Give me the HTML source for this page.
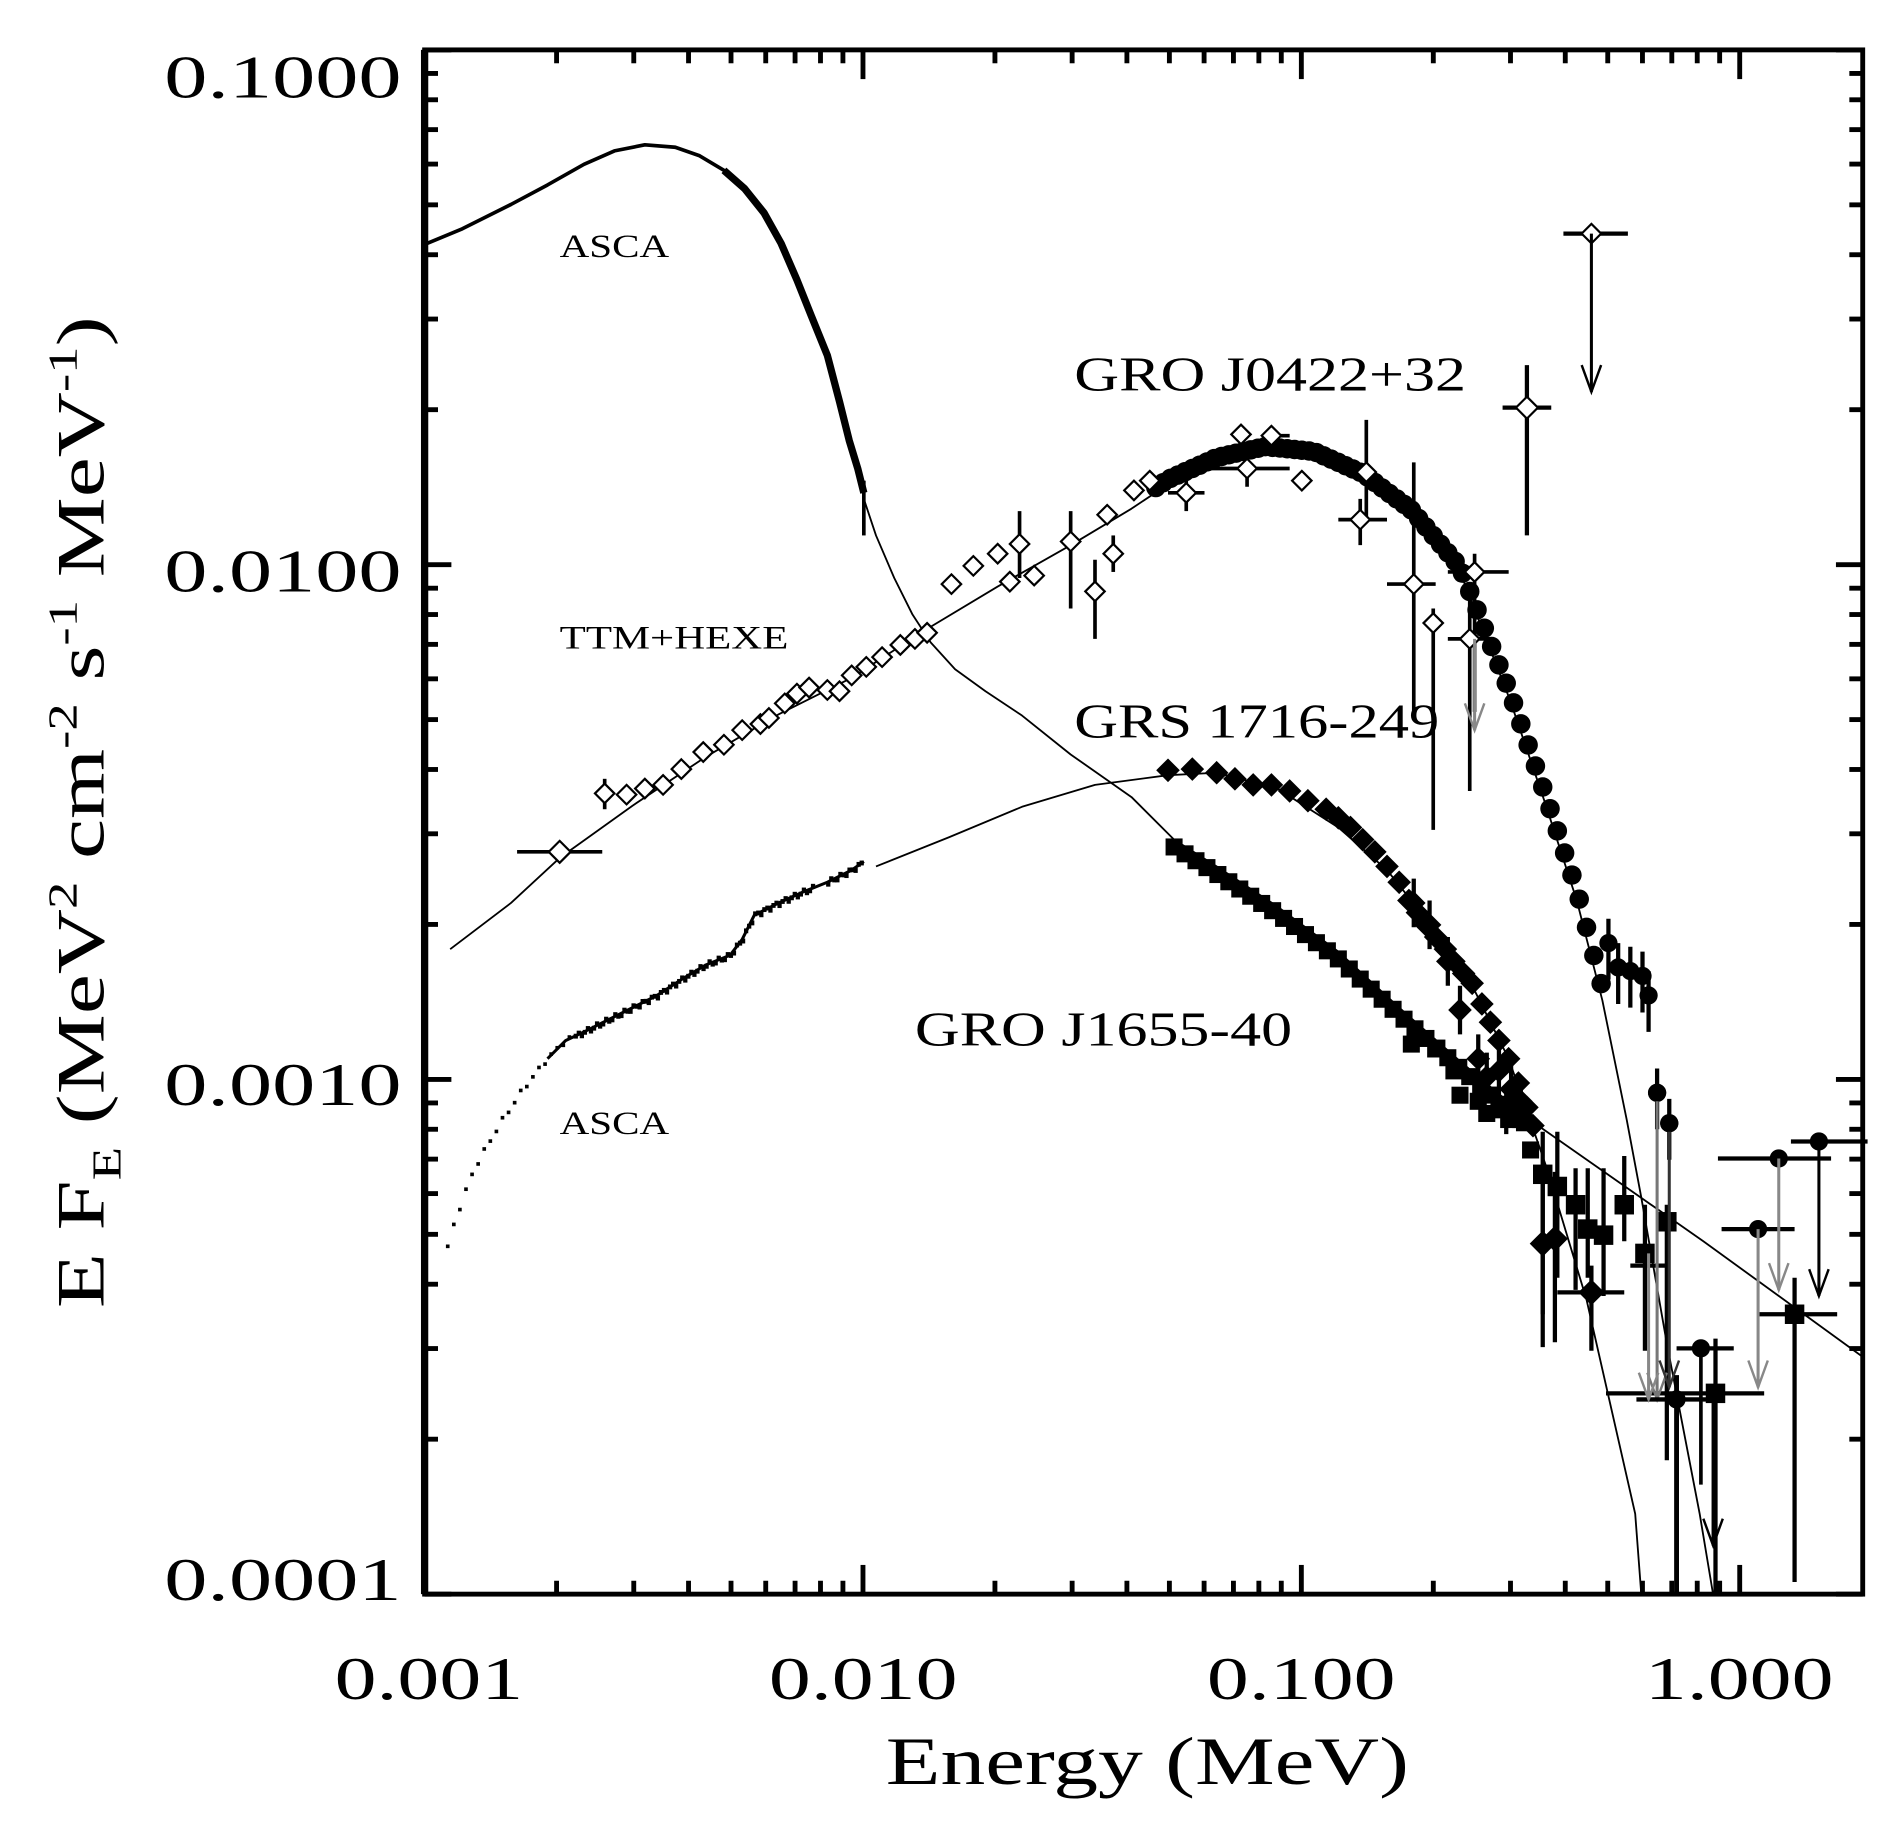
<!DOCTYPE html>
<html><head><meta charset="utf-8"><style>
html,body{margin:0;padding:0;background:#fff;}
svg{display:block;}
text{font-family:"Liberation Serif",serif;fill:#000;}
</style></head><body>
<svg id="s" xmlns="http://www.w3.org/2000/svg" width="1898" height="1829" viewBox="0 0 1560 1503" preserveAspectRatio="none">
<rect x="0" y="0" width="1560" height="1503" fill="#fff"/>
<g id="g"></g>
<text x="330" y="80" font-size="50" text-anchor="end" textLength="195" lengthAdjust="spacingAndGlyphs">0.1000</text>
<text x="330" y="486" font-size="50" text-anchor="end" textLength="195" lengthAdjust="spacingAndGlyphs">0.0100</text>
<text x="330" y="908" font-size="50" text-anchor="end" textLength="195" lengthAdjust="spacingAndGlyphs">0.0010</text>
<text x="330" y="1315" font-size="50" text-anchor="end" textLength="195" lengthAdjust="spacingAndGlyphs">0.0001</text>
<text x="275" y="1396" font-size="50" textLength="155" lengthAdjust="spacingAndGlyphs">0.001</text>
<text x="632" y="1396" font-size="50" textLength="155" lengthAdjust="spacingAndGlyphs">0.010</text>
<text x="992" y="1396" font-size="50" textLength="155" lengthAdjust="spacingAndGlyphs">0.100</text>
<text x="1352" y="1396" font-size="50" textLength="155" lengthAdjust="spacingAndGlyphs">1.000</text>
<text x="728" y="1466" font-size="56" textLength="430" lengthAdjust="spacingAndGlyphs">Energy  (MeV)</text>
<g transform="translate(85,1075) rotate(-90)">
<text x="0" y="0" font-size="56" textLength="815" lengthAdjust="spacingAndGlyphs">E F<tspan font-size="34" dy="14">E</tspan><tspan dy="-14">    (MeV</tspan><tspan font-size="34" dy="-22">2</tspan><tspan dy="22"> cm</tspan><tspan font-size="34" dy="-22">-2</tspan><tspan dy="22"> s</tspan><tspan font-size="34" dy="-22">-1</tspan><tspan dy="22"> MeV</tspan><tspan font-size="34" dy="-22">-1</tspan><tspan dy="22">)</tspan></text>
</g>
<text x="460" y="211" font-size="27" textLength="90" lengthAdjust="spacingAndGlyphs">ASCA</text>
<text x="460" y="533" font-size="27" textLength="188" lengthAdjust="spacingAndGlyphs">TTM+HEXE</text>
<text x="460" y="932" font-size="27" textLength="90" lengthAdjust="spacingAndGlyphs">ASCA</text>
<text x="883" y="321" font-size="40" textLength="322" lengthAdjust="spacingAndGlyphs">GRO J0422+32</text>
<text x="883" y="606" font-size="40" textLength="300" lengthAdjust="spacingAndGlyphs">GRS 1716-249</text>
<text x="752" y="859" font-size="40" textLength="310" lengthAdjust="spacingAndGlyphs">GRO J1655-40</text>
</svg>
<script>
var NS="http://www.w3.org/2000/svg",g=document.getElementById('g');
function el(t,a){var e=document.createElementNS(NS,t);for(var k in a)e.setAttribute(k,a[k]);g.appendChild(e);return e;}
var L=349,R=1531,T=41,B=1310;
function X(E){return L+360.3*(Math.log10(E)+3);}
function Y(F){return T+423*(-1-Math.log10(F));}
function pl(p,w,extra){var d='M'+p.map(function(q){return q[0]+','+q[1]}).join(' L');var a={d:d,fill:'none',stroke:'#000','stroke-width':w,'stroke-linejoin':'round'};if(extra)for(var k in extra)a[k]=extra[k];el('path',a);}
function iy(p,x){for(var i=0;i<p.length-1;i++){if(x>=p[i][0]&&x<=p[i+1][0]){var t=(x-p[i][0])/(p[i+1][0]-p[i][0]);return p[i][1]+t*(p[i+1][1]-p[i][1]);}}return p[p.length-1][1];}
function line(x1,y1,x2,y2,w,c){el('line',{x1:x1,y1:y1,x2:x2,y2:y2,stroke:c||'#000','stroke-width':w||3});}
function circ(x,y,r){el('circle',{cx:x,cy:y,r:r||7.5,fill:'#000'});}
function dia(x,y,s,open){el('path',{d:'M'+x+','+(y-s)+' L'+(x+s)+','+y+' L'+x+','+(y+s)+' L'+(x-s)+','+y+'Z',fill:open?'#fff':'#000',stroke:'#000','stroke-width':open?1.8:1});}
function sq(x,y,s){el('rect',{x:x-s,y:y-s,width:2*s,height:2*s,fill:'#000'});}
function arrow(x,y1,y2,c){line(x,y1,x,y2,2.5,c||'#000');el('path',{d:'M'+(x-8)+','+(y2-22)+' L'+x+','+y2+' L'+(x+8)+','+(y2-22),fill:'none',stroke:c||'#000','stroke-width':2});}

el('rect',{x:L,y:T,width:R-L,height:B-T,fill:'none',stroke:'#000','stroke-width':4});
line(L,T,L,B,6);
for(var d=-3;d<1;d++)for(var m=1;m<10;m++){var F=m*Math.pow(10,d-1);if(F>0.1+1e-12)continue;var y=Y(F);if(y<T-1||y>B+1)continue;var len=m==1?22:11;line(L,y,L+len,y,4);line(R-len,y,R,y,4);}
for(var d=-3;d<=0;d++)for(var m=1;m<10;m++){var x=X(m*Math.pow(10,d));if(x>R)continue;var len=m==1?24:11;line(x,T,x,T+len,4);line(x,B,x,B-len,4);}

var asca=[[351,200],[380,188],[420,168],[450,152],[480,135],[505,124],[530,119],[555,121],[575,128],[595,140],[612,155],[628,175],[642,200],[655,230],[667,260],[680,292],[690,330],[698,362],[705,385],[710,405]];
pl(asca.slice(0,11),3);pl(asca.slice(9),6);
line(710,395,710,440,3);
var m1=[[710,410],[720,440],[735,475],[750,505],[765,528],[785,550],[810,568],[840,588],[880,620],[930,655],[965,690],[1000,712],[1050,745],[1100,782],[1150,828],[1200,872],[1257,920],[1400,1020],[1531,1115]];
pl(m1,1.5);
var m2=[[370,780],[420,742],[460,705],[520,662],[580,622],[640,587],[700,557],[760,518],[820,482],[880,448],[930,418],[960,398],[1000,380],[1040,371],[1080,375],[1120,393],[1160,423],[1200,470],[1241,575],[1270,660],[1296,740],[1317,822],[1337,920],[1349,984],[1370,1104],[1397,1244],[1408,1310]];
pl(m2,1.5);
var m3=[[720,712],[780,688],[840,663],[900,645],[960,637],[1000,635],[1050,648],[1100,680],[1140,715],[1180,765],[1210,810],[1240,870],[1271,959],[1304,1068],[1344,1244],[1349,1310]];
pl(m3,1.5);
var la=[[368,1025],[375,1000],[390,960],[410,925],[430,895],[450,870],[465,855],[480,848],[500,838],[520,828],[540,818],[560,805],[580,793],[600,785],[610,772],[620,752],[640,742],[660,733],[680,725],[700,715],[710,708]];
for(var x=368;x<=710;x+=(x<470?5:2.5)){if(x>668&&x<680)continue;var y=iy(la,x)+(Math.sin(x*1.7)*2);el('rect',{x:x-1.5,y:y-1.5,width:x<470?3:3.5,height:x<470?3:4,fill:'#000'});}
pl(la.slice(5),2.5);

var od=[[497,652],[515,653],[530,648],[545,645],[560,632],[578,618],[595,612],[610,600],[625,595],[632,590],[645,578],[655,570],[665,565],[680,567],[690,568],[700,555],[712,548],[725,540],[740,530],[752,525],[762,520],[782,480],[800,465],[820,455],[830,478],[838,447],[850,473],[880,445],[900,486],[910,423],[915,455],[932,403],[945,395],[975,405],[1025,385],[1020,357],[1045,358],[1070,395],[1118,427],[1123,388],[1162,480],[1178,512],[1212,470],[1208,525]];
var bars={497:[640,665],838:[420,475],868:[430,530],870:[470,550],880:[420,500],885:[450,520],900:[460,525],915:[440,470],975:[390,420],1025:[375,400],1118:[410,448],1123:[345,425],1162:[380,590],1178:[500,682],1212:[455,585],1208:[490,650]};
var hb={975:[960,990],1025:[995,1060],1118:[1100,1140],1162:[1140,1180],1212:[1190,1240],1208:[1190,1225],1045:[1040,1060]};
for(var x=950;x<=1318;x+=6){var y=iy(m2,x);if(x>1200)y-=(x-1200)*0.05;circ(x,y-4,x<1230?8:8);}
[[1322,775],[1330,795],[1340,798],[1350,802],[1355,818],[1362,898],[1372,923]].forEach(function(p){circ(p[0],p[1]);line(p[0],p[1]-20,p[0],p[1]+30,3.5);});
var gd=[[960,633],[980,632],[1000,635],[1015,640],[1030,645],[1045,645],[1060,650],[1075,658],[1090,665],[1100,672],[1110,680],[1120,690],[1130,700],[1140,712],[1150,725],[1158,740],[1165,750],[1172,760],[1180,770],[1188,780],[1195,790],[1203,800],[1210,808],[1218,825],[1225,840],[1232,855],[1240,870],[1248,890],[1255,910],[1260,925]];
gd.forEach(function(p){dia(p[0],p[1],9,false);});
[[1162,742],[1175,760],[1190,790],[1200,830],[1215,870],[1222,885],[1232,880],[1242,895],[1250,905],[1238,912]].forEach(function(p){dia(p[0],p[1],9,false);line(p[0],p[1]-20,p[0],p[1]+20,3.5);});
[[1268,1022],[1278,1018]].forEach(function(p){dia(p[0],p[1],10,false);line(p[0],p[1]-55,p[0],p[1]+85,3.5);});
dia(1308,1062,10,false);line(1280,1062,1335,1062,3.5);line(1308,1040,1308,1110,3.5);
for(var x=965;x<=1255;x+=9){var y=iy(m1,x)+6;sq(x,y,7);}
[[1160,858],[1180,862],[1195,880],[1200,900],[1215,905],[1222,915],[1232,912],[1240,920],[1250,920],[1258,945]].forEach(function(p){sq(p[0],p[1],7);});
[[1268,965],[1280,975],[1295,990],[1305,1010],[1318,1015],[1335,990],[1352,1030],[1370,1004],[1410,1145],[1475,1080]].forEach(function(p,i){sq(p[0],p[1],8);var v=[[930,1080],[930,1050],[960,1060],[960,1050],[960,1065],[950,1020],[990,1110],[990,1200],[1100,1310],[1050,1300]][i];line(p[0],v[0],p[0],v[1],3.5);});
line(1340,1040,1370,1040,3.5);line(1320,1145,1450,1145,3.5);line(1445,1080,1510,1080,3.5);
od.forEach(function(p){var b=bars[p[0]];if(b)line(p[0],b[0],p[0],b[1],3);var h=hb[p[0]];if(h)line(h[0],p[1],h[1],p[1],3);});
od.forEach(function(p){dia(p[0],p[1],8,true);});
line(425,700,495,700,3);dia(460,700,9,true);
line(1255,300,1255,440,3.5);line(1235,335,1275,335,3.5);dia(1255,335,9,true);
line(1285,192,1338,192,3.5);dia(1308,192,8,true);arrow(1308,192,322);
arrow(1212,525,600,'#888');
circ(1362,898);circ(1372,923);
arrow(1362,905,1150,'#777');arrow(1372,930,1140,'#333');
circ(1398,1108);line(1378,1108,1425,1108,3.5);line(1398,1108,1398,1220,3);arrow(1408,1145,1270,'#000');
circ(1445,1010);line(1415,1010,1475,1010,3.5);arrow(1445,1010,1140,'#888');
circ(1462,952);line(1412,952,1505,952,3.5);arrow(1462,952,1060,'#888');
circ(1495,938);line(1472,938,1535,938,3.5);arrow(1495,938,1065,'#000');
circ(1378,1150);line(1345,1150,1405,1150,3.5);line(1378,1130,1378,1310,4);
arrow(1355,1030,1150,'#888');
</script>
</body></html>
